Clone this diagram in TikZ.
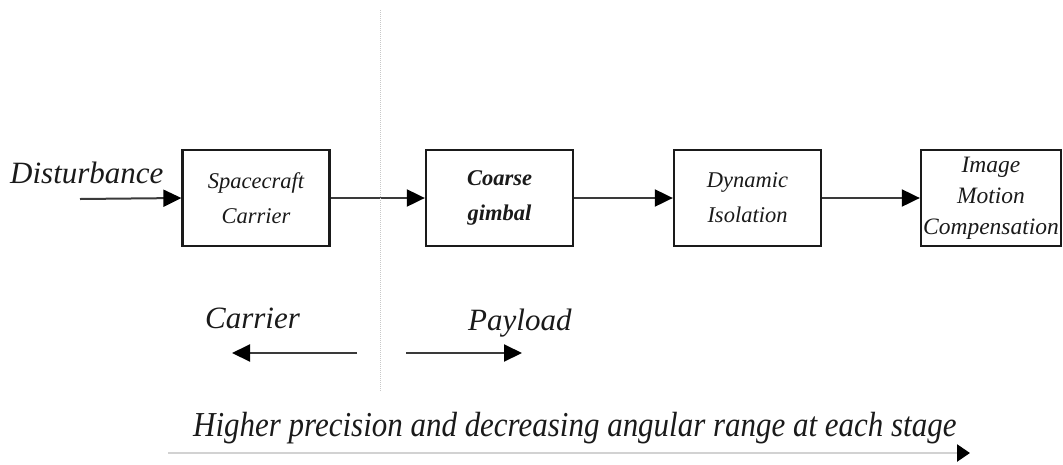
\documentclass[tikz,border=0pt]{standalone}
\usepackage{fontspec}
\setmainfont{Liberation Serif}
\newfontfamily\condserif[FakeStretch=0.885]{Liberation Serif}
\usetikzlibrary{arrows.meta}
\definecolor{ink}{HTML}{1A1A1A}
\definecolor{wire}{HTML}{3A3A3A}
\definecolor{rail}{HTML}{D2D2D2}
\definecolor{divider}{HTML}{C8C8C8}
\tikzset{
  block/.style={draw=ink, line width=2.3pt, minimum width=147pt, minimum height=96pt,
    inner sep=0pt, align=center, text=ink, font=\itshape\fontsize{22.5}{35}\selectfont},
  flow/.style={draw=wire, line width=2pt, -{Triangle[length=18pt,width=17pt,color=black]}},
  tag/.style={text=ink, font=\itshape\fontsize{31}{36}\selectfont, inner sep=0pt},
}
\begin{document}
\begin{tikzpicture}[x=1pt,y=-1pt]
  \useasboundingbox (0,0) rectangle (1063,464);

  % stage blocks
  \node[block] (carrier) at (256,198) {Spacecraft\\Carrier};
  \node[block, font=\bfseries\itshape\fontsize{22.5}{35}\selectfont] (coarse) at (499.5,198) {Coarse\\gimbal};
  \node[block] (isolation) at (747.5,198) {Dynamic\\Isolation};
  \node[block, minimum width=140pt, font=\itshape\fontsize{23.5}{31}\selectfont] (imc) at (991,198) {Image\\Motion\\Compensation};

  % disturbance input
  \node[tag, anchor=base west] (dist) at (10,183) {Disturbance};
  \coordinate (din) at (80,199);
  \draw[flow] (din) -- (carrier.west);

  % chain of stages
  \draw[flow] (carrier) -- (coarse);
  \draw[flow] (coarse) -- (isolation);
  \draw[flow] (isolation) -- (imc);

  % carrier / payload divider
  \coordinate (dtop) at (380,10);
  \coordinate (dbot) at (380,392);
  \draw[divider, line width=1pt, densely dotted] (dtop) -- (dbot);

  \node[tag, anchor=base west] (carrierlbl) at (205,328) {Carrier};
  \node[tag, anchor=base west] (payloadlbl) at (468,330) {Payload};
  \coordinate (cs) at (357,353);
  \coordinate (ce) at (232,353);
  \coordinate (ps) at (406,353);
  \coordinate (pe) at (522,353);
  \draw[flow] (cs) -- (ce);
  \draw[flow] (ps) -- (pe);

  % precision trend
  \node[text=ink, font=\condserif\itshape\fontsize{35}{38}\selectfont, inner sep=0pt, anchor=base west] (trend) at (193,436)
    {Higher precision and decreasing angular range at each stage};
  \coordinate (rs) at (168,453);
  \coordinate (re) at (970,453);
  \draw[rail, line width=2.5pt, -{Triangle[length=13pt,width=17pt,color=black]}] (rs) -- (re);
\end{tikzpicture}
\end{document}
